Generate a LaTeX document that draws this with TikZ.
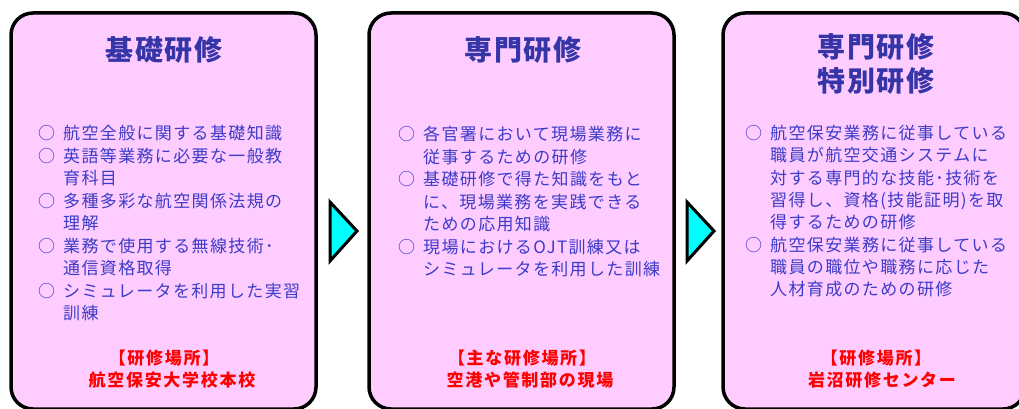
\documentclass[tikz,border=0pt]{standalone}
\usepackage{fontspec}
\setmainfont{Noto Sans CJK JP}
\usetikzlibrary{calc}
\definecolor{boxpink}{HTML}{FFCCFF}
\definecolor{titleblue}{HTML}{3535A8}
\definecolor{bodyblue}{HTML}{3C3CC8}
\definecolor{arrowcyan}{HTML}{00FFFF}
\newcommand{\bul}{\makebox[25pt][l]{○}}
\newcommand{\ind}{\hspace*{25pt}}
\begin{document}
\begin{tikzpicture}[x=1pt,y=-1pt,
  panel/.style={draw=black, line width=3.5pt, fill=boxpink, rounded corners=22pt, minimum height=396pt, inner sep=0pt},
  ttl/.style={text=titleblue, inner sep=0pt, font=\fontsize{28}{32}\selectfont\bfseries\addfontfeature{LetterSpace=6}},
  body/.style={text=bodyblue, inner sep=0pt, anchor=base west, font=\fontsize{17}{20}\selectfont\addfontfeature{LetterSpace=8}},
  plc/.style={text=red, inner sep=0pt, font=\fontsize{17}{20}\selectfont\bfseries\addfontfeature{LetterSpace=10}},
  tri/.style={draw=black, line width=3pt, fill=arrowcyan, line join=miter}]
\useasboundingbox (0,0) rectangle (1019,409);
% panels
\node[panel, minimum width=305pt] (b1) at (163.5,211) {};
\node[panel, minimum width=305pt] (b2) at (521.5,211) {};
\node[panel, minimum width=302pt] (b3) at (874,211) {};
% arrows
\coordinate (a1t) at (330,202); \coordinate (a1p) at (357,231); \coordinate (a1b) at (330,261);
\draw[tri] (a1t) -- (a1p) -- (a1b) -- cycle;
\coordinate (a2t) at (687,202); \coordinate (a2p) at (714,231); \coordinate (a2b) at (687,261);
\draw[tri] (a2t) -- (a2p) -- (a2b) -- cycle;
% titles
\node[ttl] (t1) at (164,50) {基礎研修};
\node[ttl] (t2) at (523,50) {専門研修};
\node[ttl] (t3a) at (876,47) {専門研修};
\node[ttl] (t3b) at (876,81) {特別研修};
% body box 1
\foreach \t [count=\i] in {{\bul 航空全般に関する基礎知識},{\bul 英語等業務に必要な一般教},{\ind 育科目},{\bul 多種多彩な航空関係法規の},{\ind 理解},{\bul 業務で使用する無線技術･},{\ind 通信資格取得},{\bul シミュレータを利用した実習},{\ind 訓練}}
  \node[body] (p1l\i) at (38,{139.5+22.5*(\i-1)}) {\t};
% body box 2
\foreach \t [count=\i] in {{\bul 各官署において現場業務に},{\ind 従事するための研修},{\bul 基礎研修で得た知識をもと},{\ind に、現場業務を実践できる},{\ind ための応用知識},{\bul 現場におけるOJT訓練又は},{\ind シミュレータを利用した訓練}}
  \node[body] (p2l\i) at (398,{140.5+22.5*(\i-1)}) {\t};
% body box 3
\foreach \t [count=\i] in {{\bul 航空保安業務に従事している},{\ind 職員が航空交通システムに},{\ind 対する専門的な技能･技術を},{\ind 習得し、資格(技能証明)を取},{\ind 得するための研修},{\bul 航空保安業務に従事している},{\ind 職員の職位や職務に応じた},{\ind 人材育成のための研修}}
  \node[body] (p3l\i) at (745,{139.5+22.3*(\i-1)}) {\t};
% places
\node[plc] (r1a) at (164,358) {【研修場所】};
\node[plc] (r1b) at (172,380) {航空保安大学校本校};
\node[plc] (r2a) at (522,358) {【主な研修場所】};
\node[plc] (r2b) at (530,380) {空港や管制部の現場};
\node[plc] (r3a) at (876,358) {【研修場所】};
\node[plc] (r3b) at (882,380) {岩沼研修センター};
\end{tikzpicture}
\end{document}
